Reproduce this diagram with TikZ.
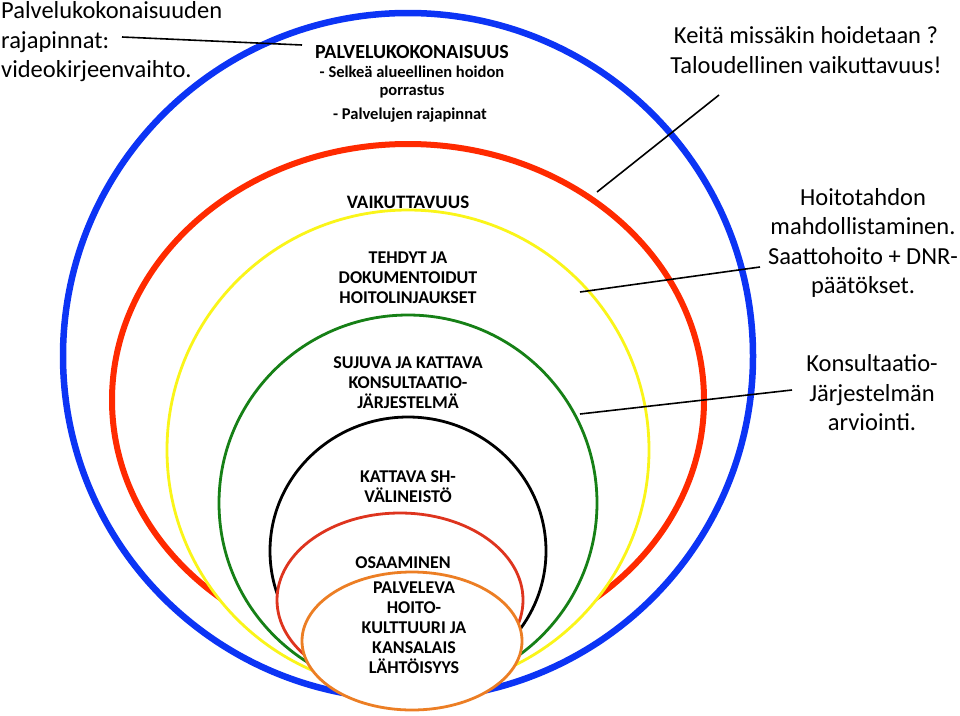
\documentclass[tikz,border=0pt]{standalone}
\usepackage{fontspec}
\setmainfont{Carlito}
\definecolor{ringblue}{RGB}{12,52,245}
\definecolor{ringred}{RGB}{255,42,0}
\definecolor{ringyellow}{RGB}{250,245,25}
\definecolor{ringgreen}{RGB}{22,128,22}
\definecolor{ringblack}{RGB}{0,0,0}
\definecolor{ringredsmall}{RGB}{222,52,30}
\definecolor{ringorange}{RGB}{236,126,36}

\begin{document}
\begin{tikzpicture}[x=1pt,y=-1pt,
  ringtxt/.style={font=\bfseries\fontsize{18}{20}\selectfont,align=center,inner sep=0pt},
  subtxt/.style={font=\bfseries\fontsize{16.5}{18}\selectfont,align=center,inner sep=0pt},
  sidetxt/.style={font=\fontsize{24.5}{29.5}\selectfont,align=center,inner sep=0pt},
  leader/.style={draw=black,line width=1.6pt}]
  \useasboundingbox (0,0) rectangle (960,715);
  \foreach \col/\lw/\cx/\cy/\rx/\ry in {ringblue/6.5/408/356/345/343,
      ringred/6/408/400/296/256, ringyellow/2.8/408/450/241/240,
      ringgreen/2.8/408/503/189/188, ringblack/2.8/408/551/138/134,
      ringredsmall/2.8/400/600/123/87, ringorange/2.8/412/641/110/69} {
    \draw[line width=\lw pt,draw=\col,fill=white] (\cx,\cy) ellipse [x radius=\rx, y radius=\ry];
  }
  \node[sidetxt,align=left,anchor=west] (rim) at (1,42) {Palvelukokonaisuuden\\rajapinnat:\\videokirjeenvaihto.};
  \node[sidetxt] (who) at (806,50) {Keitä missäkin hoidetaan ?\\Taloudellinen vaikuttavuus!};
  \node[sidetxt] (will) at (863,243) {Hoitotahdon\\mahdollistaminen.\\Saattohoito + DNR-\\päätökset.};
  \node[sidetxt] (eval) at (872,393) {Konsultaatio-\\Järjestelmän\\arviointi.};

  \node[ringtxt,font=\bfseries\fontsize{20}{22}\selectfont] (whole) at (412,52) {PALVELUKOKONAISUUS};
  \node[subtxt] (whole2) at (412,82) {- Selkeä alueellinen hoidon\\porrastus};
  \node[subtxt] (whole3) at (410,115) {- Palvelujen rajapinnat};
  \node[ringtxt,font=\bfseries\fontsize{19}{20}\selectfont] (effect) at (408,202) {VAIKUTTAVUUS};
  \node[ringtxt] (policy) at (408,278) {TEHDYT JA\\DOKUMENTOIDUT\\HOITOLINJAUKSET};
  \node[ringtxt] (consult) at (408,383) {SUJUVA JA KATTAVA\\KONSULTAATIO-\\JÄRJESTELMÄ};
  \node[ringtxt] (tools) at (408,487) {KATTAVA SH-\\VÄLINEISTÖ};
  \node[ringtxt] (skill) at (403,563) {OSAAMINEN};
  \node[ringtxt] (culture) at (414,628) {PALVELEVA\\HOITO-\\KULTTUURI JA\\KANSALAIS\\LÄHTÖISYYS};

  \coordinate (l1a) at (122,37);
  \coordinate (l1b) at (302,45);
  \coordinate (l2a) at (719,95);
  \coordinate (l2b) at (597,192);
  \coordinate (l3a) at (760,267);
  \coordinate (l3b) at (580,292);
  \coordinate (l4a) at (792,390);
  \coordinate (l4b) at (580,414);
  \draw[leader] (l1a) -- (l1b);
  \draw[leader] (l2a) -- (l2b);
  \draw[leader] (l3a) -- (l3b);
  \draw[leader] (l4a) -- (l4b);
\end{tikzpicture}
\end{document}
